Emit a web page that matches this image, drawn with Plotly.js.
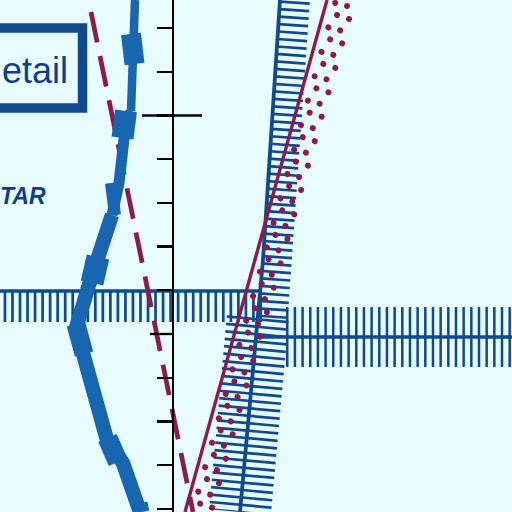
<!DOCTYPE html>
<html>
<head>
<meta charset="utf-8">
<script src="https://cdn.plot.ly/plotly-3.0.1.min.js"></script>
<style>
  html, body { margin: 0; padding: 0; background: #e8fbfd; }
  #graph { width: 512px; height: 512px; }
</style>
</head>
<body>
<div id="graph"></div>
<script>
// Data (picture units, y grows downward)

// vertical scale
const tickY = [28.1, 71.8, 115.5, 159.2, 202.9, 246.6, 290.3, 334.0, 377.7, 421.4, 465.1, 508.8];
const longTickY = [115.5, 334.0];
const longTickX0 = [142, 150];
const longTickX1 = [202, 172];

// thick blue curve, three stretches
const blueTopX = [135, 134, 132, 131];
const blueTopY = [0, 34, 66, 111];
const blueMidX = [131, 124, 119, 112];
const blueMidY = [111, 139, 183, 215];
const blueLowX = [112, 97, 89, 76, 84, 95, 107, 123, 140];
const blueLowY = [215, 256, 285, 328, 355, 402, 440, 463, 512];
// the step blocks on the blue curve
const stepX0 = [131, 126, 111, 98, 76, 107.5, 141];
const stepY0 = [34, 111, 183, 257, 324, 438, 503];
const stepX1 = [134.5, 122.5, 115, 92, 84, 118, 143];
const stepY1 = [64, 138, 215, 283, 354, 462, 512];

// maroon lines
const solidX = [327, 185];
const solidY = [0, 512];
const dashedX = [91, 193];
const dashedY = [12, 512];
// four dotted rows (first dot centre to bottom edge)
const dotX0 = [335.2, 337.0, 347.0, 349.0];
const dotY0 = [3, 15, 6, 19];
const dotX1 = [192.6, 197.8, 205.3, 210.9];
const dotY1 = [512, 512, 512, 512];

// navy hatched lines
const vLineX = [280, 263, 240];
const vLineY = [0, 260, 512];
const hLine1X = [0, 262];
const hLine1Y = [291, 291];
const hLine2X = [257, 512];
const hLine2Y = [337, 337];
// hatch bands
const hatchAX = [294.9, 278, 272.7];
const hatchAY = [1.3, 260, 318];
const hatchBX = [257.7, 240];
const hatchBY = [318, 512];
const hatchCX = [3.6, 262];
const hatchCY = [306.5, 306.5];
const hatchDX = [286, 512];
const hatchDY = [337, 337];

const navy = '#0f4a8c';
const blue = '#1866b0';
const maroon = '#8b1a4e';
const ink = '#0d3f86';
const bg = '#e8fbfd';

function line(x, y, color, width, dash) {
    return {
        x: x, y: y,
        mode: 'lines', type: 'scatter',
        line: {color: color, width: width, dash: dash || 'solid'},
        hoverinfo: 'skip', showlegend: false
    };
}

function segments(x0, y0, x1, y1) {
    var xs = [], ys = [];
    for (var i = 0; i < x0.length; i++) {
        xs.push(x0[i], x1[i], null);
        ys.push(y0[i], y1[i], null);
    }
    return [xs, ys];
}

var data = [];

// hatching
data.push(line(hatchCX, hatchCY, navy, 31, '2.7px,4.83px'));
data.push(line(hatchAX, hatchAY, navy, 30, '2.7px,4.8px'));
data.push(line(hatchBX, hatchBY, navy, 62, '2.7px,4.75px'));
data.push(line(hatchDX, hatchDY, navy, 60, '2.5px,5.17px'));

// navy lines
data.push(line(vLineX, vLineY, navy, 3.8));
data.push(line(hLine1X, hLine1Y, navy, 3.6));
data.push(line(hLine2X, hLine2Y, navy, 3.6));

// maroon
data.push(line(solidX, solidY, maroon, 3.4));
var dotTraces = [];
for (var i = 0; i < dotX0.length; i++) {
    dotTraces.push(data.length);
    data.push(line([dotX0[i], dotX1[i]], [dotY0[i], dotY1[i]], maroon, 6, '0.01px,25.36px'));
}
data.push(line(dashedX, dashedY, maroon, 4.7, '31px,14px'));

// thick blue
data.push(line(blueTopX, blueTopY, blue, 8.5));
data.push(line(blueMidX, blueMidY, blue, 11));
data.push(line(blueLowX, blueLowY, blue, 14.5));
var stepW = [20, 22, 12, 23, 19, 20, 13];
for (var j = 0; j < stepX0.length; j++) {
    data.push(line([stepX0[j], stepX1[j]], [stepY0[j], stepY1[j]], blue, stepW[j]));
}

// longer ticks on the scale
var lt = segments(longTickX0, longTickY, longTickX1, longTickY);
data.push(line(lt[0], lt[1], '#000000', 2.3));

var layout = {
    width: 512,
    height: 512,
    margin: {l: 0, r: 0, t: 0, b: 0},
    paper_bgcolor: bg,
    plot_bgcolor: bg,
    showlegend: false,
    xaxis: {
        range: [0, 512],
        visible: false,
        fixedrange: true
    },
    yaxis: {
        range: [512, 0],
        anchor: 'free',
        position: 172.5 / 512,
        showline: true,
        linecolor: '#000000',
        linewidth: 2.3,
        ticks: 'outside',
        ticklen: 15,
        tickwidth: 2.3,
        tickcolor: '#000000',
        tickmode: 'array',
        tickvals: tickY,
        showticklabels: false,
        showgrid: false,
        zeroline: false,
        fixedrange: true
    },
    shapes: [{
        type: 'rect',
        xref: 'x', yref: 'y',
        x0: -20, x1: 82.5, y0: 28, y1: 108,
        line: {color: navy, width: 9.5},
        fillcolor: 'rgba(0,0,0,0)'
    }],
    annotations: [{
        text: 'etail',
        x: 70, y: 70,
        xref: 'x', yref: 'y',
        xanchor: 'right', yanchor: 'middle',
        showarrow: false,
        font: {family: 'Liberation Sans, Arial, sans-serif', size: 36, color: ink}
    }, {
        text: '<b><i>TAR</i></b>',
        x: 48, y: 196,
        xref: 'x', yref: 'y',
        xanchor: 'right', yanchor: 'middle',
        showarrow: false,
        font: {family: 'Liberation Sans, Arial, sans-serif', size: 23, color: ink}
    }]
};

Plotly.newPlot('graph', data, layout, {displayModeBar: false, staticPlot: true}).then(function(gd) {
    // round dots for the dotted rows
    var traces = gd.querySelectorAll('.scatterlayer .trace');
    dotTraces.forEach(function(k) {
        var p = traces[k] && traces[k].querySelector('path.js-line');
        if (p) p.style.strokeLinecap = 'round';
    });
});
</script>
</body>
</html>
